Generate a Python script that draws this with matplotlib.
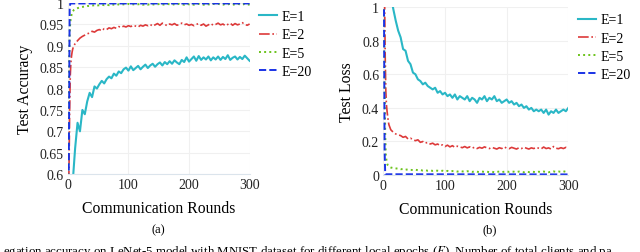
import numpy as np
import matplotlib
matplotlib.use("Agg")
import matplotlib.pyplot as plt
from matplotlib.ticker import FuncFormatter

plt.rcParams["font.family"] = ["Liberation Serif", "DejaVu Serif"]
plt.rcParams["mathtext.fontset"] = "stix"

# communication rounds: every round up to 10, then every 4 rounds
rounds = np.concatenate([np.arange(0, 11), np.arange(12, 301, 4)])

# ---- (a) test accuracy ----
acc_e1 = [0.35, 0.38, 0.41, 0.44, 0.47, 0.50, 0.53, 0.56, 0.58, 0.60, 0.62,
          0.66, 0.72, 0.70, 0.75, 0.74, 0.77, 0.79, 0.78, 0.805, 0.80,
          0.81, 0.818, 0.812, 0.822, 0.828, 0.824, 0.835, 0.83, 0.84, 0.836,
          0.845, 0.849, 0.842, 0.852, 0.843, 0.848, 0.853, 0.845, 0.851, 0.856,
          0.848, 0.854, 0.858, 0.851, 0.857, 0.861, 0.854, 0.862, 0.857, 0.864,
          0.858, 0.866, 0.861, 0.857, 0.867, 0.862, 0.873, 0.863, 0.869, 0.875,
          0.865, 0.876, 0.867, 0.873, 0.868, 0.875, 0.866, 0.873, 0.868, 0.875,
          0.867, 0.874, 0.869, 0.878, 0.867, 0.872, 0.875, 0.868, 0.874, 0.869,
          0.877, 0.871, 0.865]
acc_e2 = [0.50, 0.55, 0.62, 0.75, 0.83, 0.86, 0.875, 0.885, 0.892, 0.897, 0.90,
          0.905, 0.912, 0.918, 0.922, 0.925, 0.928, 0.93, 0.934, 0.932, 0.936,
          0.938, 0.935, 0.94, 0.938, 0.942, 0.94, 0.943, 0.941, 0.945, 0.943,
          0.946, 0.944, 0.947, 0.945, 0.948, 0.946, 0.944, 0.948, 0.946, 0.949,
          0.947, 0.95, 0.946, 0.949, 0.952, 0.948, 0.953, 0.95, 0.947, 0.951,
          0.949, 0.952, 0.948, 0.95, 0.953, 0.949, 0.951, 0.948, 0.95, 0.947,
          0.95, 0.952, 0.948, 0.951, 0.946, 0.949, 0.952, 0.948, 0.95, 0.953,
          0.949, 0.951, 0.947, 0.95, 0.953, 0.948, 0.952, 0.949, 0.951, 0.954,
          0.95, 0.948, 0.951]
acc_e5 = [0.50, 0.62, 0.85, 0.93, 0.955, 0.965, 0.972, 0.977, 0.98, 0.982, 0.984,
          0.986, 0.988, 0.99, 0.991, 0.992, 0.993, 0.993, 0.994, 0.995, 0.994,
          0.995, 0.996, 0.995, 0.996, 0.995, 0.997, 0.996, 0.995, 0.997, 0.996,
          0.997, 0.996, 0.998, 0.996, 0.997, 0.996, 0.997, 0.998, 0.996, 0.997,
          0.996, 0.998, 0.997, 0.996, 0.997, 0.998, 0.996, 0.997, 0.998, 0.997,
          0.998, 0.996, 0.997, 0.998, 0.997, 0.996, 0.998, 0.997, 0.998, 0.996,
          0.997, 0.998, 0.997, 0.996, 0.998, 0.997, 0.996, 0.998, 0.997, 0.998,
          0.997, 0.996, 0.998, 0.997, 0.998, 0.996, 0.997, 0.998, 0.997, 0.996,
          0.998, 0.997, 0.996]
rounds_e20_acc = [0, 1, 2, 3, 4, 300]
acc_e20 = [0.40, 0.50, 0.72, 0.985, 0.999, 0.999]

# ---- (b) test loss ----
loss_e1 = [2.3, 2.1, 1.9, 1.75, 1.6, 1.5, 1.42, 1.35, 1.28, 1.22, 1.17,
           1.08, 0.99, 0.92, 0.86, 0.82, 0.75, 0.74, 0.68, 0.66, 0.61,
           0.60, 0.57, 0.56, 0.54, 0.55, 0.53, 0.52, 0.51, 0.52, 0.49,
           0.50, 0.48, 0.49, 0.47, 0.48, 0.46, 0.48, 0.45, 0.47, 0.46,
           0.45, 0.47, 0.44, 0.46, 0.45, 0.43, 0.46, 0.45, 0.47, 0.44,
           0.46, 0.45, 0.47, 0.44, 0.45, 0.43, 0.44, 0.45, 0.43, 0.44,
           0.42, 0.43, 0.41, 0.42, 0.40, 0.41, 0.39, 0.40, 0.38, 0.39,
           0.38, 0.39, 0.37, 0.39, 0.36, 0.38, 0.37, 0.39, 0.37, 0.38,
           0.39, 0.38, 0.40]
loss_e2 = [2.0, 1.5, 1.05, 0.7, 0.5, 0.42, 0.38, 0.35, 0.32, 0.30, 0.29,
           0.27, 0.255, 0.245, 0.24, 0.235, 0.225, 0.23, 0.215, 0.22, 0.21,
           0.205, 0.21, 0.195, 0.2, 0.19, 0.195, 0.185, 0.19, 0.18, 0.185,
           0.175, 0.18, 0.17, 0.178, 0.168, 0.175, 0.165, 0.172, 0.168, 0.163,
           0.17, 0.162, 0.168, 0.16, 0.166, 0.158, 0.165, 0.16, 0.168, 0.162,
           0.158, 0.165, 0.16, 0.155, 0.163, 0.158, 0.168, 0.16, 0.157, 0.165,
           0.16, 0.155, 0.163, 0.158, 0.166, 0.16, 0.155, 0.162, 0.158, 0.165,
           0.16, 0.156, 0.167, 0.158, 0.162, 0.155, 0.17, 0.16, 0.157, 0.163,
           0.158, 0.165, 0.16]
loss_e5 = [1.6, 1.0, 0.55, 0.25, 0.12, 0.09, 0.07, 0.06, 0.055, 0.05, 0.048,
           0.045, 0.042, 0.04, 0.038, 0.035, 0.036, 0.032, 0.034, 0.031, 0.03,
           0.032, 0.029, 0.03, 0.027, 0.029, 0.026, 0.028, 0.025, 0.027, 0.026,
           0.024, 0.026, 0.023, 0.025, 0.022, 0.024, 0.023, 0.021, 0.024, 0.022,
           0.02, 0.023, 0.021, 0.019, 0.022, 0.02, 0.018, 0.021, 0.019, 0.02,
           0.018, 0.02, 0.017, 0.019, 0.021, 0.018, 0.02, 0.022, 0.019, 0.021,
           0.02, 0.018, 0.021, 0.019, 0.017, 0.02, 0.018, 0.021, 0.019, 0.017,
           0.02, 0.018, 0.021, 0.019, 0.017, 0.02, 0.022, 0.019, 0.021, 0.02,
           0.023, 0.019, 0.016]
rounds_e20_loss = [0, 1, 2, 3, 300]
loss_e20 = [1.5, 1.05, 0.15, 0.005, 0.004]

labels = ["E=1", "E=2", "E=5", "E=20"]
colors = ["#2ab7c6", "#dd3a3a", "#6cc31c", "#1a33e6"]
styles = ["-", "-.", ":", "--"]
widths = [1.5, 1.2, 1.4, 1.4]

fig = plt.figure(figsize=(6.4, 2.53), dpi=100)
ax1 = fig.add_axes([0.106, 0.308, 0.284, 0.676])
ax2 = fig.add_axes([0.599, 0.304, 0.289, 0.664])

acc_series = [(rounds, acc_e1), (rounds, acc_e2), (rounds, acc_e5), (rounds_e20_acc, acc_e20)]
loss_series = [(rounds, loss_e1), (rounds, loss_e2), (rounds, loss_e5), (rounds_e20_loss, loss_e20)]

for ax, series, top in [(ax1, acc_series, 1.015), (ax2, loss_series, 1.02)]:
    for (x, y), lab, c, ls, lw in zip(series, labels, colors, styles, widths):
        ax.plot(x, y, ls, color=c, lw=lw, label=lab)
    for s in ax.spines.values():
        s.set_visible(False)
    ax.spines["bottom"].set_visible(True)
    ax.spines["bottom"].set_color("#dbe4ec")
    ax.grid(True, color="#f0f0f0", lw=0.8)
    ax.set_axisbelow(True)
    ax.tick_params(length=0, labelsize=10, colors="#222222", pad=3)
    ax.set_xlim(0, 300)
    ax.set_xticks([0, 100, 200, 300])
    ax.yaxis.set_major_formatter(FuncFormatter(lambda v, p: "{:g}".format(round(v, 2))))
    ax.set_xlabel("Communication Rounds", fontsize=11.3, labelpad=6)
    ax.legend(loc="upper left", bbox_to_anchor=(1.0, top), frameon=False,
              fontsize=10, handlelength=1.3, handletextpad=0.3, labelspacing=0.38,
              borderaxespad=0.3)

ax1.set_ylim(0.6, 1.0)
ax1.set_yticks([0.6, 0.65, 0.7, 0.75, 0.8, 0.85, 0.9, 0.95, 1.0])
ax1.set_ylabel("Test Accuracy", fontsize=11.3, labelpad=5)
ax2.set_ylim(0, 1.0)
ax2.set_yticks([0, 0.2, 0.4, 0.6, 0.8, 1.0])
ax2.set_ylabel("Test Loss", fontsize=11.3, labelpad=5)

fig.text(0.247, 0.091, "(a)", ha="center", va="center", fontsize=9)
fig.text(0.765, 0.091, "(b)", ha="center", va="center", fontsize=9)
fig.text(0.005, 0.036, "egation accuracy on LeNet-5 model with MNIST dataset for different local epochs ($E$). "
         "Number of total clients and pa", ha="left", va="top", fontsize=9.3)

fig.savefig("out.png", dpi=100)
